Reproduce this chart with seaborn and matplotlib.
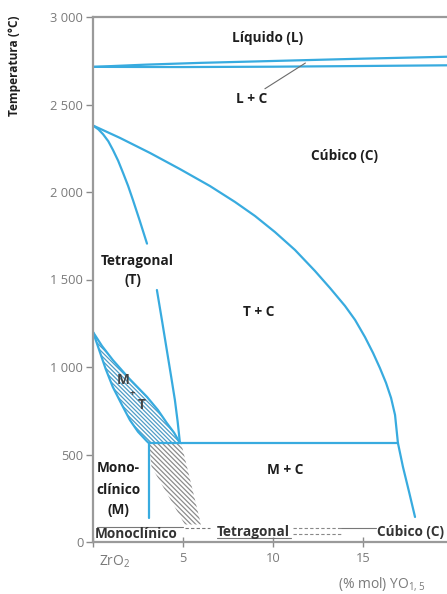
import matplotlib
matplotlib.use("Agg")
import matplotlib.pyplot as plt
import pandas as pd
import seaborn as sns

# ---- phase boundaries (x: mol % YO1.5, T: °C) ----
liq_x = [0, 3, 6, 9, 12, 15, 19.7]
liq_t = [2715, 2728, 2738, 2746, 2754, 2762, 2773]

sol_x = [0, 5, 10, 15, 19.7]
sol_t = [2715, 2714, 2716, 2720, 2724]

# tetragonal / (T + C) boundary, split around the "Tetragonal (T)" label
tt_up_x = [0, 0.3, 0.56, 0.85, 1.11, 1.4, 1.67, 1.95, 2.22, 2.6, 3.0]
tt_up_t = [2380, 2358, 2330, 2290, 2240, 2178, 2109, 2035, 1954, 1835, 1705]
tt_lo_x = [3.55, 3.85, 4.1, 4.35, 4.55, 4.7, 4.83]
tt_lo_t = [1440, 1255, 1097, 940, 811, 690, 566]

# (T + C) / cubic boundary continuing into (M + C) / cubic
cub_x = [0, 1.5, 3.17, 4.83, 6.5, 7.89, 9.0, 10.11, 11.22, 12.33, 13.17,
         14.0, 14.56, 15.11, 15.56, 15.94, 16.28, 16.56, 16.78, 16.94,
         17.22, 17.56, 17.89]
cub_t = [2380, 2309, 2223, 2131, 2034, 1943, 1863, 1771, 1669, 1549, 1451,
         1349, 1269, 1171, 1080, 994, 909, 823, 726, 566, 429, 286, 143]

eut_x = [3.1, 16.94]
eut_t = [566, 566]

mono_x = [3.1, 3.1]
mono_t = [566, 140]

# M + T band
band_up_x = [0, 0.5, 1.1, 2.0, 3.0, 3.6, 4.1, 4.5, 4.83]
band_up_t = [1200, 1120, 1040, 935, 829, 755, 680, 625, 566]
band_lo_x = [0, 0.4, 0.7, 1.1, 1.6, 2.05, 2.5, 3.0, 3.1]
band_lo_t = [1200, 1080, 990, 886, 785, 697, 630, 575, 566]

# metastable transformation zone below the eutectoid
meta_x = [3.1, 4.9, 6.0, 5.1, 3.25]
meta_t = [566, 566, 100, 100, 430]

y_ticks = [0, 500, 1000, 1500, 2000, 2500, 3000]
y_tick_labels = ["0", "500", "1 000", "1 500", "2 000", "2 500", "3 000"]
x_ticks = [0, 5, 10, 15]
x_tick_labels = ["", "5", "10", "15"]

BLUE = "#38abdf"
TXT = "#1e1e1e"

segments = [
    ("liquidus", liq_x, liq_t),
    ("solidus", sol_x, sol_t),
    ("tt_up", tt_up_x, tt_up_t),
    ("tt_lo", tt_lo_x, tt_lo_t),
    ("cubic", cub_x, cub_t),
    ("eutectoid", eut_x, eut_t),
    ("mono", mono_x, mono_t),
    ("band_up", band_up_x, band_up_t),
    ("band_lo", band_lo_x, band_lo_t),
]
rows = []
for name, xs, ts in segments:
    for i, (x, t) in enumerate(zip(xs, ts)):
        rows.append({"curve": name, "order": i, "x": x, "T": t})
df = pd.DataFrame(rows)

sns.set_theme(style="white")
plt.rcParams["font.family"] = ["Open Sans", "DejaVu Sans"]
plt.rcParams["hatch.linewidth"] = 0.9
plt.rcParams["mathtext.fontset"] = "custom"
plt.rcParams["mathtext.rm"] = "Open Sans"

fig = plt.figure(figsize=(4.47, 5.94), dpi=100)
ax = fig.add_axes([93 / 447, 1 - 542 / 594, 1 - 93 / 447, (542 - 17) / 594])

# shaded two-phase zones
band_poly_x = band_up_x + band_lo_x[::-1]
band_poly_t = band_up_t + band_lo_t[::-1]
ax.fill(band_poly_x, band_poly_t, facecolor="none", edgecolor="#4f9cc6",
        hatch="\\" * 8, linewidth=0)
ax.fill(meta_x, meta_t, facecolor="none", edgecolor="#8c8c8c",
        hatch="\\" * 7, linewidth=0)

sns.lineplot(data=df, x="x", y="T", units="curve", estimator=None, sort=False,
             color=BLUE, linewidth=1.6, ax=ax, legend=False)

# leader line for L + C
ax.plot([9.55, 11.8], [2590, 2737], color="#6b6b6b", linewidth=0.8)

# room-temperature metastable phases strip
ax.plot([0.2, 5.0], [88, 88], color="#777777", linewidth=0.8)
ax.plot([5.1, 6.5], [80, 80], color="#777777", linewidth=0.8, dashes=(3, 2))
ax.plot([6.9, 11.0], [22, 22], color="#777777", linewidth=0.8)
ax.plot([11.1, 13.8], [80, 80], color="#888888", linewidth=0.8, dashes=(3, 2))
ax.plot([11.1, 13.8], [45, 45], color="#888888", linewidth=0.8, dashes=(3, 2))
ax.plot([13.8, 15.7], [80, 80], color="#777777", linewidth=0.8)

fs = 9.8
bold = dict(fontsize=fs, fontweight="bold", color=TXT, ha="center", va="center")
ax.text(9.7, 2880, "Líquido (L)", **bold)
ax.text(8.8, 2530, "L + C", **bold)
ax.text(13.95, 2206, "Cúbico (C)", **bold)
ax.text(2.45, 1606, "Tetragonal", **bold)
ax.text(2.2, 1497, "(T)", **bold)
ax.text(9.2, 1314, "T + C", **bold)
ax.text(10.7, 411, "M + C", **bold)
ax.text(1.4, 423, "Mono-", **bold)
ax.text(1.4, 297, "clínico", **bold)
ax.text(1.4, 183, "(M)", **bold)
mt = dict(fontweight="bold", color="#444444", ha="center", va="center")
ax.text(1.67, 926, "M", fontsize=fs, **mt)
ax.text(2.2, 851, "+", fontsize=fs - 3, **mt)
ax.text(2.7, 783, "T", fontsize=fs, **mt)
strip = dict(fontsize=fs, fontweight="bold", color="#333333", ha="left", va="center")
ax.text(0.1, 45, "Monoclínico", **strip)
ax.text(6.9, 55, "Tetragonal", **strip)
ax.text(15.8, 57, "Cúbico (C)", **strip)

ax.set_xlim(0, (447 - 93) / 18)
ax.set_ylim(0, 3000)
ax.set_xticks(x_ticks)
ax.set_xticklabels(x_tick_labels)
ax.set_yticks(y_ticks)
ax.set_yticklabels(y_tick_labels)
ax.set_xlabel("")
ax.set_ylabel("")
ax.tick_params(axis="both", colors="#8a8a8a", labelcolor="#7a7a7a", labelsize=9.3,
               width=1.0, left=True, bottom=True)
ax.tick_params(axis="x", direction="inout", length=7, pad=4)
ax.tick_params(axis="y", direction="out", length=5, pad=2)
for side in ["left", "bottom", "top"]:
    ax.spines[side].set_color("#9a9a9a")
    ax.spines[side].set_linewidth(1.6)
ax.spines["right"].set_visible(False)

fig.text(115 / 447, 1 - 562 / 594, "ZrO$_\\mathregular{2}$", fontsize=10, color="#7a7a7a",
         ha="center", va="center")
fig.text(382 / 447, 1 - 584 / 594, "(% mol) YO$_\\mathregular{1,5}$", fontsize=10,
         color="#7a7a7a", ha="center", va="center")
fig.text(15 / 447, 1 - 16 / 594, "Temperatura (°C)", fontsize=8.6, fontweight="bold",
         color=TXT, rotation=90, ha="center", va="top")

fig.savefig("out.png", dpi=100, facecolor="white")
